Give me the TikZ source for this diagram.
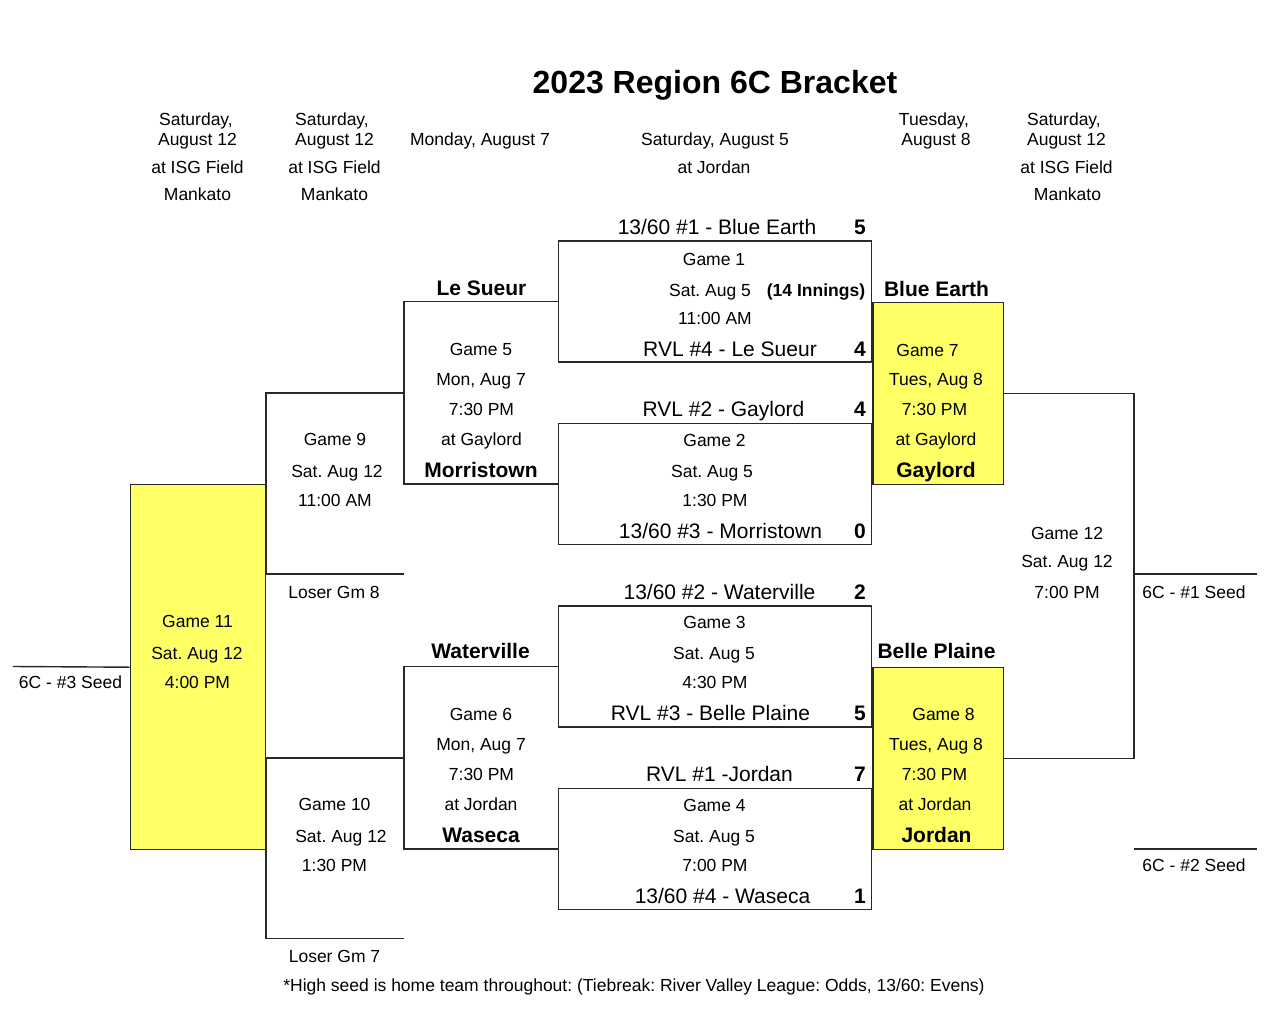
\documentclass[tikz,border=0pt]{standalone}
\usepackage{fontspec}
\setmainfont{Liberation Sans}
\frenchspacing
\definecolor{yel}{RGB}{255,255,102}
\definecolor{lnc}{RGB}{40,40,40}
\tikzset{
  ln/.style={line width=1.4pt, draw=lnc},
  gbox/.style={ln, rectangle, inner sep=0pt, minimum width=313pt, minimum height=121pt},
  ybox/.style={ln, fill=yel, rectangle, inner sep=0pt},
  tx/.style={inner sep=0pt, text height=12.5pt, text depth=0pt, font=\fontsize{17.5}{20}\selectfont},
  tm/.style={inner sep=0pt, text height=15pt, text depth=0pt, font=\fontsize{21}{24}\selectfont},
  tb/.style={inner sep=0pt, text height=15pt, text depth=0pt, font=\fontsize{21}{24}\selectfont\bfseries},
  ts/.style={inner sep=0pt, text height=12.5pt, text depth=0pt, font=\fontsize{17.5}{20}\selectfont\bfseries},
}
\begin{document}
\begin{tikzpicture}[x=1pt,y=-1pt]
\useasboundingbox[fill=white] (0,0) rectangle (1284,1035);

% title and headers
\node[inner sep=0pt, text height=23pt, text depth=0pt, font=\fontsize{32}{36}\selectfont\bfseries] (title) at (715,82.5) {2023 Region 6C Bracket};
\node[tx] (h1a) at (196,119) {Saturday,};
\node[tx] (h1b) at (197.5,139) {August 12};
\node[tx] (h1c) at (197.5,167) {at ISG Field};
\node[tx] (h1d) at (197.5,194) {Mankato};
\node[tx] (h2a) at (332,119) {Saturday,};
\node[tx] (h2b) at (334.5,139) {August 12};
\node[tx] (h2c) at (334.5,167) {at ISG Field};
\node[tx] (h2d) at (334.5,194) {Mankato};
\node[tx] (h3a) at (480,139) {Monday, August 7};
\node[tx] (h4a) at (715,139) {Saturday, August 5};
\node[tx] (h4b) at (714,167) {at Jordan};
\node[tx] (h5a) at (934,119) {Tuesday,};
\node[tx] (h5b) at (936,139) {August 8};
\node[tx] (h6a) at (1064,119) {Saturday,};
\node[tx] (h6b) at (1066.5,139) {August 12};
\node[tx] (h6c) at (1066.5,167) {at ISG Field};
\node[tx] (h6d) at (1067.5,194) {Mankato};

% boxes
\node[gbox] (g1) at (715,301.5) {};
\node[gbox] (g2) at (715,484) {};
\node[gbox] (g3) at (715,666.5) {};
\node[gbox] (g4) at (715,849) {};
\node[ybox, minimum width=130.5pt, minimum height=182.5pt, anchor=north west] (g7) at (g1.east) {};
\node[ybox, minimum width=130.5pt, minimum height=182.5pt, anchor=north west] (g8) at (g3.east) {};
\node[ybox, minimum width=135pt, minimum height=365pt, anchor=north east] (g11) at (266,484) {};

% coordinates
\coordinate (g5m) at (404,393);
\coordinate (g6m) at (404,758);
\coordinate (l8) at (404,574);
\coordinate (l7) at (404,938.5);
\coordinate (s3) at (13,666.5);
\coordinate (g12r) at (1134,574);
\coordinate (s1) at (1257,574);
\coordinate (g12b) at (1134,849);
\coordinate (s2) at (1257,849);

% bracket lines
\draw[ln] (g1.west) -| (g5m) |- (g2.west);
\draw[ln] (g3.west) -| (g6m) |- (g4.west);
\draw[ln] (g5m) -- (266,393) |- (l8);
\draw[ln] (g6m) -- (266,758) |- (l7);
\draw[ln] (g7.east) -| (g12r) |- (g8.east);
\draw[ln] (g12r) -- (s1);
\draw[ln] (g12b) -- (s2);
\draw[ln] (s3) -- (g11.west);

% game 1
\node[tm] (a1) at (717,226.5) {13/60 \#1 - Blue Earth};
\node[tb] (a2) at (860,226.5) {5};
\node[tx] (a3) at (714,259) {Game 1};
\node[tx] (a4) at (710,290) {Sat. Aug 5};
\node[ts] (a5) at (816,290) {(14 Innings)};
\node[tx] (a6) at (715,318) {11:00 AM};
\node[tm] (a7) at (730,349) {RVL \#4 - Le Sueur};
\node[tb] (a8) at (860,349) {4};
% game 2
\node[tm] (b1) at (723.5,409) {RVL \#2 - Gaylord};
\node[tb] (b2) at (860,409) {4};
\node[tx] (b3) at (714.5,440) {Game 2};
\node[tx] (b4) at (712,471.5) {Sat. Aug 5};
\node[tx] (b5) at (715,500.5) {1:30 PM};
\node[tm] (b6) at (720.5,531) {13/60 \#3 - Morristown};
\node[tb] (b7) at (860,531) {0};
% game 3
\node[tm] (c1) at (719.5,592) {13/60 \#2 - Waterville};
\node[tb] (c2) at (860,592) {2};
\node[tx] (c3) at (714.5,622) {Game 3};
\node[tx] (c4) at (714,653.5) {Sat. Aug 5};
\node[tx] (c5) at (715,682.5) {4:30 PM};
\node[tm] (c6) at (710.5,713) {RVL \#3 - Belle Plaine};
\node[tb] (c7) at (860,713) {5};
% game 4
\node[tm] (d1) at (719.5,774) {RVL \#1 -Jordan};
\node[tb] (d2) at (860,774) {7};
\node[tx] (d3) at (714.5,805) {Game 4};
\node[tx] (d4) at (714,836.5) {Sat. Aug 5};
\node[tx] (d5) at (715,865.5) {7:00 PM};
\node[tm] (d6) at (722.5,896) {13/60 \#4 - Waseca};
\node[tb] (d7) at (860,896) {1};

% game 5
\node[tb] (e1) at (481.5,288) {Le Sueur};
\node[tx] (e2) at (481,349.5) {Game 5};
\node[tx] (e3) at (481,379) {Mon, Aug 7};
\node[tx] (e4) at (481.5,409.5) {7:30 PM};
\node[tx] (e5) at (481.5,439.5) {at Gaylord};
\node[tb] (e6) at (481,469.5) {Morristown};
% game 6
\node[tb] (f1) at (480.5,651) {Waterville};
\node[tx] (f2) at (481,714.5) {Game 6};
\node[tx] (f3) at (481,744) {Mon, Aug 7};
\node[tx] (f4) at (481.5,774.5) {7:30 PM};
\node[tx] (f5) at (481,804.5) {at Jordan};
\node[tb] (f6) at (481,834.5) {Waseca};

% game 7
\node[tb] (k1) at (936.5,288.5) {Blue Earth};
\node[tx] (k2) at (927.5,350) {Game 7};
\node[tx] (k3) at (936,379) {Tues, Aug 8};
\node[tx] (k4) at (934.5,409.5) {7:30 PM};
\node[tx] (k5) at (936,439.5) {at Gaylord};
\node[tb] (k6) at (936,469.5) {Gaylord};
% game 8
\node[tb] (m1) at (936.5,651) {Belle Plaine};
\node[tx] (m2) at (943.5,714.5) {Game 8};
\node[tx] (m3) at (936,744) {Tues, Aug 8};
\node[tx] (m4) at (934.5,774.5) {7:30 PM};
\node[tx] (m5) at (935,804.5) {at Jordan};
\node[tb] (m6) at (936.5,834.5) {Jordan};

% game 9
\node[tx] (n1) at (335,439.5) {Game 9};
\node[tx] (n2) at (337,471.5) {Sat. Aug 12};
\node[tx] (n3) at (335,500) {11:00 AM};
\node[tx] (n4) at (334,592) {Loser Gm 8};
% game 10
\node[tx] (p1) at (334.5,804.5) {Game 10};
\node[tx] (p2) at (341,836.5) {Sat. Aug 12};
\node[tx] (p3) at (334.5,865.5) {1:30 PM};
\node[tx] (p4) at (334.5,956) {Loser Gm 7};
% game 11
\node[tx] (q1) at (197.5,621.5) {Game 11};
\node[tx] (q2) at (197,653.5) {Sat. Aug 12};
\node[tx] (q3) at (197.5,682.5) {4:00 PM};
\node[tx] (q4) at (70.5,682.5) {6C - \#3 Seed};
% game 12
\node[tx] (r1) at (1067,533) {Game 12};
\node[tx] (r2) at (1067,561.5) {Sat. Aug 12};
\node[tx] (r3) at (1067,592.5) {7:00 PM};
\node[tx] (r4) at (1194,592.5) {6C - \#1 Seed};
\node[tx] (r5) at (1194,865.5) {6C - \#2 Seed};

% footnote
\node[tx] (fn) at (634,985) {*High seed is home team throughout: (Tiebreak: River Valley League: Odds, 13/60: Evens)};
\end{tikzpicture}
\end{document}
